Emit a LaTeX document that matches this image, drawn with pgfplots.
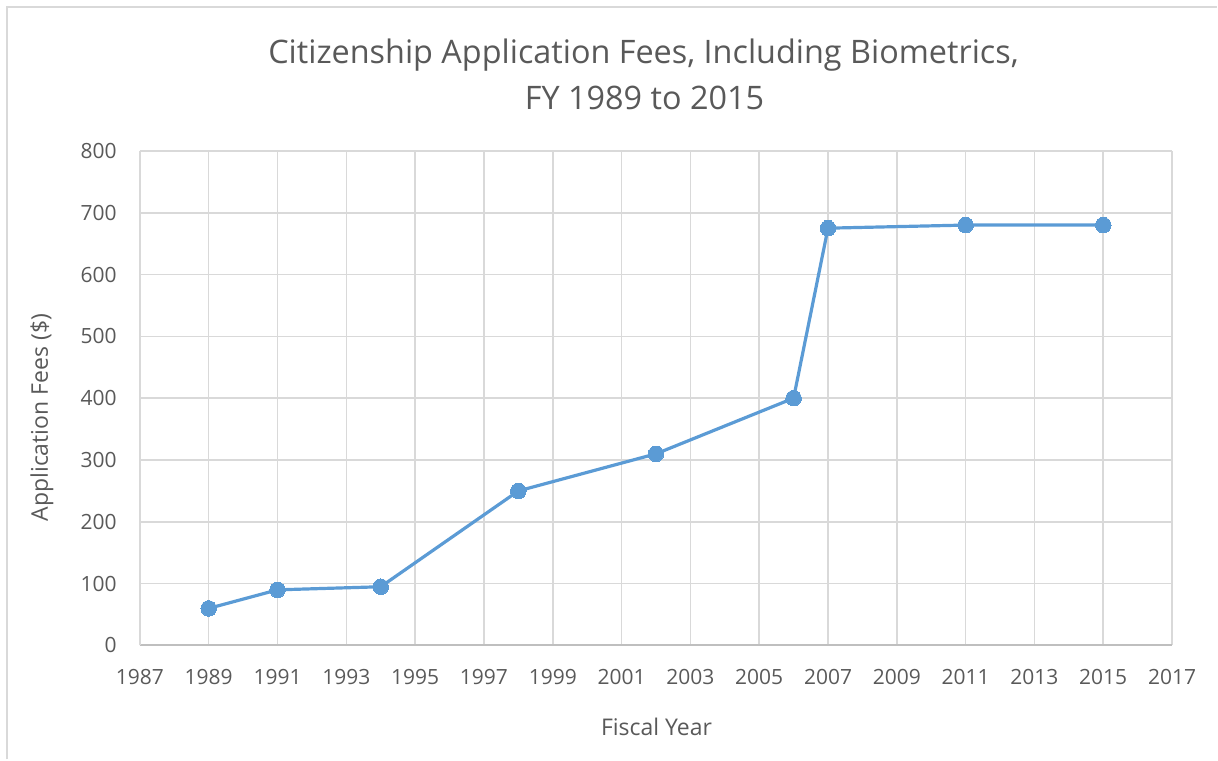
\documentclass[border=0pt]{standalone}
\usepackage{fontspec}
\setmainfont{Open Sans}
\usepackage{pgfplots}
\pgfplotsset{compat=1.18}
\definecolor{linecol}{HTML}{5B9BD5}
\definecolor{txt}{HTML}{595959}
\definecolor{gridc}{HTML}{D9D9D9}
\definecolor{axc}{HTML}{BFBFBF}
\begin{document}
\begin{tikzpicture}
\begin{axis}[
  at={(70pt,-323pt)}, anchor=south west,
  scale only axis, width=516.5pt, height=247.5pt,
  xmin=1987, xmax=2017, ymin=0, ymax=800,
  xtick={1987,1989,...,2017}, ytick={0,100,...,800},
  grid=major, grid style={gridc, line width=0.8pt},
  axis x line*=bottom, axis y line*=left,
  x axis line style={axc, line width=1pt, -},
  y axis line style={gridc, line width=0.8pt, -},
  major tick length=0pt,
  tick label style={font=\fontsize{10.5}{12}\selectfont, text=txt, inner sep=0pt},
  /pgf/number format/assume math mode=true,
  /pgf/number format/1000 sep={},
  xticklabel style={anchor=center, yshift=-16pt},
  yticklabel style={anchor=east, xshift=-11.5pt},
  clip=false,
]
\addplot[linecol, line width=1.6pt, mark=*, mark size=3.9pt,
  mark options={fill=linecol, draw=linecol, line width=0pt}] coordinates {
  (1989,60) (1991,90) (1994,95) (1998,250) (2002,310)
  (2006,400) (2007,675) (2011,680) (2015,680)
};
\end{axis}
\begin{scope}[x=0.5pt, y=-0.5pt]
\draw[gridc, line width=1pt] (7,760) -- (7,7) -- (1218,7);
\node[text=txt, font=\fontsize{16.2}{20}\selectfont, anchor=base] at (644,64)
  {Citizenship Application Fees, Including Biometrics,};
\node[text=txt, font=\fontsize{16.2}{20}\selectfont, anchor=base] at (645,110)
  {FY 1989 to 2015};
\node[text=txt, font=\fontsize{11.5}{14}\selectfont, rotate=90] at (42,418) {Application Fees (\$)};
\node[text=txt, font=\fontsize{11.5}{14}\selectfont] at (657,727) {Fiscal Year};
\path[use as bounding box] (0,0) rectangle (1218,760);
\end{scope}
\end{tikzpicture}
\end{document}
